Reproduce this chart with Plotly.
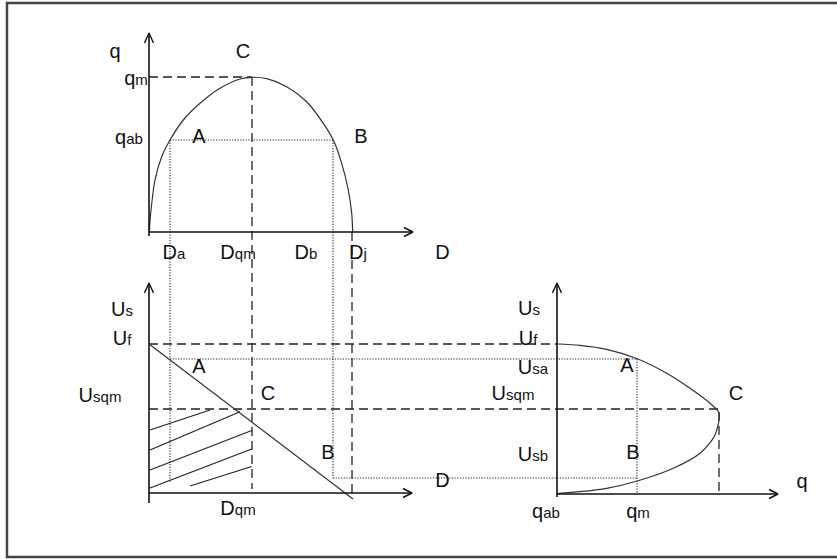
import plotly.graph_objects as go

# Diagram drawn in picture units (x to the right, y downward)
W, H = 837, 559

# --- flow-density curve q(D), top panel ---
qd_curve_x = [149.3, 150.7, 155, 161.7, 170, 183.3, 200, 220, 240, 251.7,
              266.7, 286.7, 306.7, 323.3, 333.3, 341.7, 348.3, 351.7, 352.7]
qd_curve_y = [231.7, 213.3, 180, 156.7, 140, 120, 103.3, 88.3, 79, 77.3,
              78.7, 86.7, 101.7, 123.3, 140, 163.3, 190, 213.3, 231.7]

# --- speed-flow curve U(q), right panel ---
uq_curve_x = [557.3, 580, 606.7, 637.3, 666.7, 690, 710, 719, 715, 700,
              673.3, 637.3, 606.7, 580, 557.3]
uq_curve_y = [344, 345.3, 349.3, 358.8, 373.3, 388.3, 403.3, 413, 435, 453.3,
              468.3, 481, 488.3, 491.7, 493.5]

# --- speed-density line U(D), bottom-left panel ---
ud_line_x = [149, 353]
ud_line_y = [344, 499]

# hatching under C (start x, start y, end x, end y)
hatch_x0 = [150, 150, 150, 150, 190]
hatch_y0 = [430, 450, 470, 488, 486]
hatch_x1 = [210, 240, 251.7, 251.7, 251.7]
hatch_y1 = [410, 411.7, 430.5, 449, 466.5]

# axes (x0, y0, x1, y1) and arrow direction at (x1, y1)
axes_x0 = [149, 149, 149, 149, 557, 557]
axes_y0 = [236, 232, 503, 493, 497, 494]
axes_x1 = [149, 413, 149, 412, 557, 778]
axes_y1 = [33, 232, 283, 493, 283, 494]
axes_dir = ['up', 'right', 'up', 'right', 'up', 'right']

# dashed guide lines
dash_x0 = [149, 252, 352, 149, 149, 719]
dash_y0 = [77, 77, 232, 344, 409, 412]
dash_x1 = [252, 252, 352, 557, 719, 719]
dash_y1 = [77, 489, 498, 344, 409, 494]

# dotted guide lines
dot_x0 = [170, 170, 333, 170, 333, 637]
dot_y0 = [140, 140, 140, 359, 478, 359]
dot_x1 = [333, 170, 333, 637, 637, 637]
dot_y1 = [140, 483, 478, 359, 478, 494]

# outer frame (open on the right, it runs out of the picture)
frame_x = [W + 5, 7, 7, W + 5]
frame_y = [3, 3, 557, 557]

SUB = "<span style='font-size:15px'>{}</span>"
label_text = [
    "q", "C", "q" + SUB.format("m"), "q" + SUB.format("ab"), "A", "B",
    "D" + SUB.format("a"), "D" + SUB.format("qm"), "D" + SUB.format("b"),
    "D" + SUB.format("j"), "D",
    "U" + SUB.format("s"), "U" + SUB.format("f"), "U" + SUB.format("sqm"),
    "A", "C", "B", "D", "D" + SUB.format("qm"),
    "U" + SUB.format("s"), "U" + SUB.format("f"), "U" + SUB.format("sa"),
    "U" + SUB.format("sqm"), "U" + SUB.format("sb"), "A", "B", "C", "q",
    "q" + SUB.format("ab"), "q" + SUB.format("m"),
]
label_x = [115, 243, 136, 129, 199, 361,
           174, 238, 306, 358, 442.5,
           122, 122, 100,
           199, 268, 328, 442.5, 238,
           529, 528, 533, 513, 533, 627, 633, 736, 802,
           546, 638]
label_y = [53, 53, 80, 139, 138, 138,
           254, 254, 254, 254, 254,
           311, 340, 397,
           368, 395, 454, 482, 510,
           310, 340, 369, 395, 456, 367, 454, 395, 483,
           513, 513]


def segments(x0, y0, x1, y1):
    xs, ys = [], []
    for a, b, c, d in zip(x0, y0, x1, y1):
        xs += [a, c, None]
        ys += [b, d, None]
    return xs, ys


def arrow_heads(xs, ys, dirs):
    hx, hy = [], []
    for x, y, d in zip(xs, ys, dirs):
        if d == 'up':
            hx += [x - 4.5, x, x + 4.5, None]
            hy += [y + 10, y, y + 10, None]
        else:
            hx += [x - 9, x, x - 9, None]
            hy += [y - 4.5, y, y + 4.5, None]
    return hx, hy


fig = go.Figure()

# frame
fig.add_trace(go.Scatter(x=frame_x, y=frame_y, mode='lines',
                         line=dict(color='#444', width=2.5)))

# guide lines
gx, gy = segments(dash_x0, dash_y0, dash_x1, dash_y1)
fig.add_trace(go.Scatter(x=gx, y=gy, mode='lines',
                         line=dict(color='#222', width=1.3, dash='9px,5px')))
gx, gy = segments(dot_x0, dot_y0, dot_x1, dot_y1)
fig.add_trace(go.Scatter(x=gx, y=gy, mode='lines',
                         line=dict(color='#222', width=1.1, dash='1.2px,1.5px')))

# hatching
hx, hy = segments(hatch_x0, hatch_y0, hatch_x1, hatch_y1)
fig.add_trace(go.Scatter(x=hx, y=hy, mode='lines', line=dict(color='#222', width=1.2)))

# curves
fig.add_trace(go.Scatter(x=qd_curve_x, y=qd_curve_y, mode='lines',
                         line=dict(color='#333', width=1.2, shape='spline', smoothing=0.8)))
fig.add_trace(go.Scatter(x=uq_curve_x, y=uq_curve_y, mode='lines',
                         line=dict(color='#333', width=1.2, shape='spline', smoothing=0.8)))
fig.add_trace(go.Scatter(x=ud_line_x, y=ud_line_y, mode='lines',
                         line=dict(color='#333', width=1.2)))

# axes with open arrow heads
ax_x, ax_y = segments(axes_x0, axes_y0, axes_x1, axes_y1)
fig.add_trace(go.Scatter(x=ax_x, y=ax_y, mode='lines', line=dict(color='#111', width=1.6)))
ah_x, ah_y = arrow_heads(axes_x1, axes_y1, axes_dir)
fig.add_trace(go.Scatter(x=ah_x, y=ah_y, mode='lines', line=dict(color='#111', width=1.4)))

# labels
fig.add_trace(go.Scatter(
    x=label_x, y=label_y, mode='text', text=label_text,
    textposition='middle center',
    textfont=dict(family='Liberation Sans, Arial, sans-serif', size=20, color='#111'),
))

fig.update_layout(
    width=W, height=H,
    margin=dict(l=0, r=0, t=0, b=0),
    paper_bgcolor='white', plot_bgcolor='white',
    showlegend=False, hovermode=False,
    xaxis=dict(range=[0, W], visible=False),
    yaxis=dict(range=[H, 0], visible=False),
)

# drop the default page margin so the figure sits at the window corner
fig.write_html("out.html", config={'displayModeBar': False},
               post_script="document.body.style.margin='0';")
